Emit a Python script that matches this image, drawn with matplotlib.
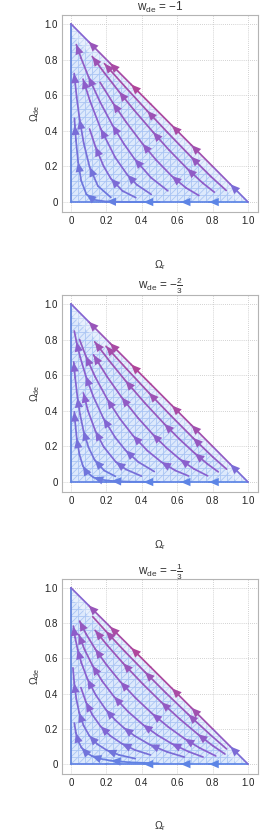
import numpy as np
import matplotlib
matplotlib.use("Agg")
import matplotlib.pyplot as plt
from matplotlib.collections import LineCollection
from matplotlib.colors import LinearSegmentedColormap
from matplotlib.patches import Polygon

plt.rcParams['font.family'] = ['Liberation Sans', 'DejaVu Sans']
plt.rcParams['mathtext.fontset'] = 'custom'
plt.rcParams['mathtext.rm'] = 'Liberation Sans'
plt.rcParams['mathtext.it'] = 'Liberation Sans:italic'
plt.rcParams['mathtext.default'] = 'regular'

titles = [r'$w_{\rm de}$ = $-1$', r'$w_{\rm de}$ = $-\frac{2}{3}$', r'$w_{\rm de}$ = $-\frac{1}{3}$']
ticks = [0, 0.2, 0.4, 0.6, 0.8, 1.0]
tick_labels = ['0', '0.2', '0.4', '0.6', '0.8', '1.0']

# streamlines: (Omega_r, Omega_de), tail -> head
w1_lines = [
    [(0.5, 0.0), (0.333, 0.0003), (0.1995, 0.0026), (0.129, 0.0127), (0.087, 0.0435), (0.0576, 0.12), (0.0405, 0.2234), (0.0281, 0.3466), (0.0219, 0.431), (0.0194, 0.47)],
    [(0.225, 0.026), (0.152, 0.09), (0.105, 0.197), (0.072, 0.33), (0.0487, 0.464), (0.032, 0.589), (0.018, 0.722)],
    [(0.366, 0.0248), (0.291, 0.0625), (0.225, 0.132), (0.1845, 0.2005), (0.138, 0.311), (0.105, 0.41)],
    [(0.453, 0.043), (0.372, 0.097), (0.318, 0.153), (0.25, 0.25), (0.168, 0.411), (0.1075, 0.567), (0.068, 0.69)],
    [(0.547, 0.063), (0.452, 0.137), (0.359, 0.242), (0.300, 0.325), (0.234, 0.432), (0.164, 0.562), (0.099, 0.703), (0.057, 0.808), (0.030, 0.884)],
    [(0.7225, 0.0366), (0.649, 0.080), (0.569, 0.146), (0.481, 0.236), (0.404, 0.327), (0.312, 0.448), (0.237, 0.556), (0.164, 0.672)],
    [(0.8095, 0.0556), (0.745, 0.106), (0.656, 0.188), (0.553, 0.293), (0.463, 0.393), (0.3565, 0.516), (0.272, 0.619), (0.190, 0.723), (0.120, 0.817)],
    [(0.877, 0.065), (0.79, 0.1435), (0.677, 0.255), (0.544, 0.392), (0.4305, 0.512), (0.3066, 0.646), (0.189, 0.777)],
]

w2_lines = [
    [(0.4998, 0.0003), (0.333, 0.0018), (0.229, 0.0058), (0.164, 0.0141), (0.127, 0.0259), (0.0856, 0.0588), (0.0674, 0.0903), (0.048, 0.153), (0.0325, 0.245), (0.0219, 0.351), (0.0188, 0.394)],
    [(0.251, 0.0317), (0.187, 0.0649), (0.1336, 0.124), (0.0988, 0.195), (0.0706, 0.2875), (0.0512, 0.38), (0.0368, 0.4727), (0.0234, 0.587), (0.0155, 0.674)],
    [(0.398, 0.0333), (0.31, 0.071), (0.253, 0.113), (0.185, 0.197), (0.138, 0.286), (0.0958, 0.40), (0.07, 0.5)],
    [(0.4706, 0.0588), (0.38, 0.1127), (0.308, 0.178), (0.25, 0.25), (0.183, 0.358), (0.126, 0.48), (0.0836, 0.595), (0.052, 0.701), (0.031, 0.787), (0.0186, 0.848)],
    [(0.664, 0.0339), (0.5886, 0.065), (0.51, 0.1126), (0.4315, 0.176), (0.35, 0.261), (0.276, 0.3557), (0.2044, 0.466), (0.136, 0.5916), (0.0834, 0.708), (0.0483, 0.80)],
    [(0.772, 0.0347), (0.694, 0.074), (0.615, 0.128), (0.5376, 0.1936), (0.46, 0.27), (0.3796, 0.3586), (0.2857, 0.476), (0.205, 0.59), (0.127, 0.714)],
    [(0.832, 0.057), (0.769, 0.103), (0.699, 0.1615), (0.614, 0.2395), (0.527, 0.3265), (0.416, 0.445), (0.3077, 0.569), (0.2175, 0.679), (0.134, 0.787)],
    [(0.879, 0.0723), (0.802, 0.14), (0.689, 0.248), (0.565, 0.372), (0.44, 0.501), (0.315, 0.634), (0.198, 0.762)],
]

w3_lines = [
    [(0.496, 0.0039), (0.33, 0.0103), (0.226, 0.0195), (0.161, 0.0314), (0.117, 0.0465), (0.0849, 0.066), (0.0593, 0.094), (0.0415, 0.129), (0.0278, 0.177), (0.0187, 0.233)],
    [(0.363, 0.0312), (0.271, 0.0523), (0.2014, 0.0793), (0.1477, 0.114), (0.103, 0.162), (0.071, 0.219), (0.0463, 0.292), (0.030, 0.37), (0.0183, 0.46), (0.011, 0.546)],
    [(0.449, 0.052), (0.362, 0.08), (0.2866, 0.1166), (0.222, 0.1607), (0.167, 0.2146), (0.12, 0.281), (0.0845, 0.352), (0.056, 0.434)],
    [(0.64, 0.04), (0.543, 0.0693), (0.444, 0.111), (0.36, 0.16), (0.2975, 0.2066), (0.25, 0.25), (0.1975, 0.3086), (0.1406, 0.3906), (0.0934, 0.482), (0.0588, 0.574), (0.0375, 0.65), (0.0233, 0.718), (0.0132, 0.783)],
    [(0.746, 0.0405), (0.664, 0.0707), (0.568, 0.1167), (0.487, 0.1654), (0.4066, 0.2238), (0.3228, 0.2975), (0.243, 0.383), (0.1766, 0.4703), (0.1213, 0.5595), (0.0765, 0.65), (0.0442, 0.735)],
    [(0.818, 0.046), (0.7265, 0.092), (0.642, 0.144), (0.55, 0.2105), (0.4586, 0.2866), (0.364, 0.376), (0.279, 0.467), (0.2008, 0.5629), (0.1364, 0.6537), (0.0842, 0.74), (0.049, 0.811)],
    [(0.87, 0.057), (0.801, 0.1045), (0.716, 0.17), (0.618, 0.253), (0.51, 0.3516), (0.4055, 0.4547), (0.294, 0.5725), (0.206, 0.6726), (0.136, 0.759)],
    [(0.879, 0.086), (0.787, 0.1667), (0.6626, 0.282), (0.535, 0.405), (0.4177, 0.5227), (0.304, 0.6394), (0.197, 0.754), (0.123, 0.836)],
]

# boundary streamlines
hyp_x = [1.0, 0.9, 0.8, 0.68, 0.57, 0.45, 0.34, 0.22, 0.1, 0.0]
bottom_x = [1.0, 0.78, 0.62, 0.41, 0.2, 0.0]

all_lines = [w1_lines, w2_lines, w3_lines]

# colour (0 = blue, 1 = magenta) at tail and head of each line
line_tone = [(0.05, 0.35), (0.2, 0.45), (0.3, 0.5), (0.35, 0.55), (0.45, 0.6), (0.5, 0.65), (0.55, 0.75), (0.6, 0.85)]
hyp_tone = [0.0, 0.35, 0.6, 0.8, 0.9, 0.95, 1.0, 0.9, 0.7, 0.45]
hyp_arrows = [1, 3, 4, 6, 7, 8]

cmap = LinearSegmentedColormap.from_list('mma', ['#5c85e6', '#8a60cf', '#b0459a'])

ax_rects = [
    [62/260, 1-212/836, 196/260, 197/836],
    [62/260, 1-492/836, 196/260, 197/836],
    [62/260, 1-774/836, 196/260, 195/836],
]
title_y = [1-7.5/836, 1-286/836, 1-571.5/836]
xlab_y = [1-265/836, 1-545/836, 1-826/836]


def draw_line(ax, pts, tones, arrows, lw=1.25):
    pts = np.array(pts)
    segs = np.stack([pts[:-1], pts[1:]], axis=1)
    if len(tones) == 2:
        t = np.interp(np.arange(len(segs)), [0, max(len(segs) - 1, 1)], tones)
    else:
        t = np.array(tones[1:])
    cols = cmap(t)
    lc = LineCollection(segs, colors=cols, linewidths=lw, capstyle='round', zorder=4)
    ax.add_collection(lc)
    for i in arrows:
        ax.annotate('', xy=pts[i], xytext=pts[i-1],
                    arrowprops=dict(arrowstyle='-|>,head_length=0.7,head_width=0.3',
                                    mutation_scale=10, color=cols[i-1], lw=0,
                                    shrinkA=0, shrinkB=0), zorder=5)


fig = plt.figure(figsize=(2.6, 8.36), dpi=100)

for k in range(3):
    ax = fig.add_axes(ax_rects[k])
    ax.set_xlim(-0.0508, 1.0565)
    ax.set_ylim(-0.056, 1.05)
    ax.set_xticks(ticks)
    ax.set_xticklabels(tick_labels)
    ax.set_yticks(ticks)
    ax.set_yticklabels(tick_labels)
    ax.tick_params(length=0, labelsize=7, pad=3, colors='#222222')
    ax.grid(True, color='#c4c4c4', ls=(0, (1, 1.5)), lw=0.6)
    ax.set_axisbelow(True)
    for s in ax.spines.values():
        s.set_color('#b4b4b4')
        s.set_linewidth(0.8)

    tri = Polygon([(0, 0), (1, 0), (0, 1)], closed=True, facecolor='#dde9fc', edgecolor='none', zorder=2)
    ax.add_patch(tri)
    # mesh
    h = 0.04
    mesh = []
    for c in np.arange(h, 1, h):
        mesh.append([(c, 0), (c, 1)])
        mesh.append([(0, c), (1, c)])
    for c in np.arange(-1, 1, h):
        mesh.append([(0, c), (1, 1 + c)])
    mc = LineCollection(mesh, colors='#abc6f4', linewidths=0.6, zorder=3)
    mc.set_clip_path(tri)
    ax.add_collection(mc)
    # paler band along the hypotenuse
    band = Polygon([(1, 0), (0, 1), (0, 0.94), (0.94, 0)], closed=True, facecolor='white',
                   alpha=0.35, edgecolor='none', zorder=3.5)
    ax.add_patch(band)

    # left edge, bottom, hypotenuse
    ax.plot([0, 0], [0, 1], color='#5c7fd9', lw=1.25, zorder=4)
    bpts = [(x, 0.0) for x in bottom_x]
    draw_line(ax, bpts, (0.0, 0.05), [1, 2, 3])
    hpts = [(x, 1 - x) for x in hyp_x]
    draw_line(ax, hpts, hyp_tone, hyp_arrows)

    for j, pts in enumerate(all_lines[k]):
        arr = [i for i in range(2, len(pts), 2)]
        draw_line(ax, pts, line_tone[j], arr)

    fig.text(160/260, title_y[k], titles[k], ha='center', va='center', fontsize=8.5, color='#333333')
    fig.text(160/260, xlab_y[k], r'$\Omega_{\rm r}$', ha='center', va='center', fontsize=7.5, color='#333333')
    fig.text(35/260, (ax_rects[k][1] + ax_rects[k][3]/2), r'$\Omega_{\rm de}$', ha='center', va='center',
             fontsize=7.5, color='#333333', rotation=90)

fig.savefig('out.png', dpi=100)
